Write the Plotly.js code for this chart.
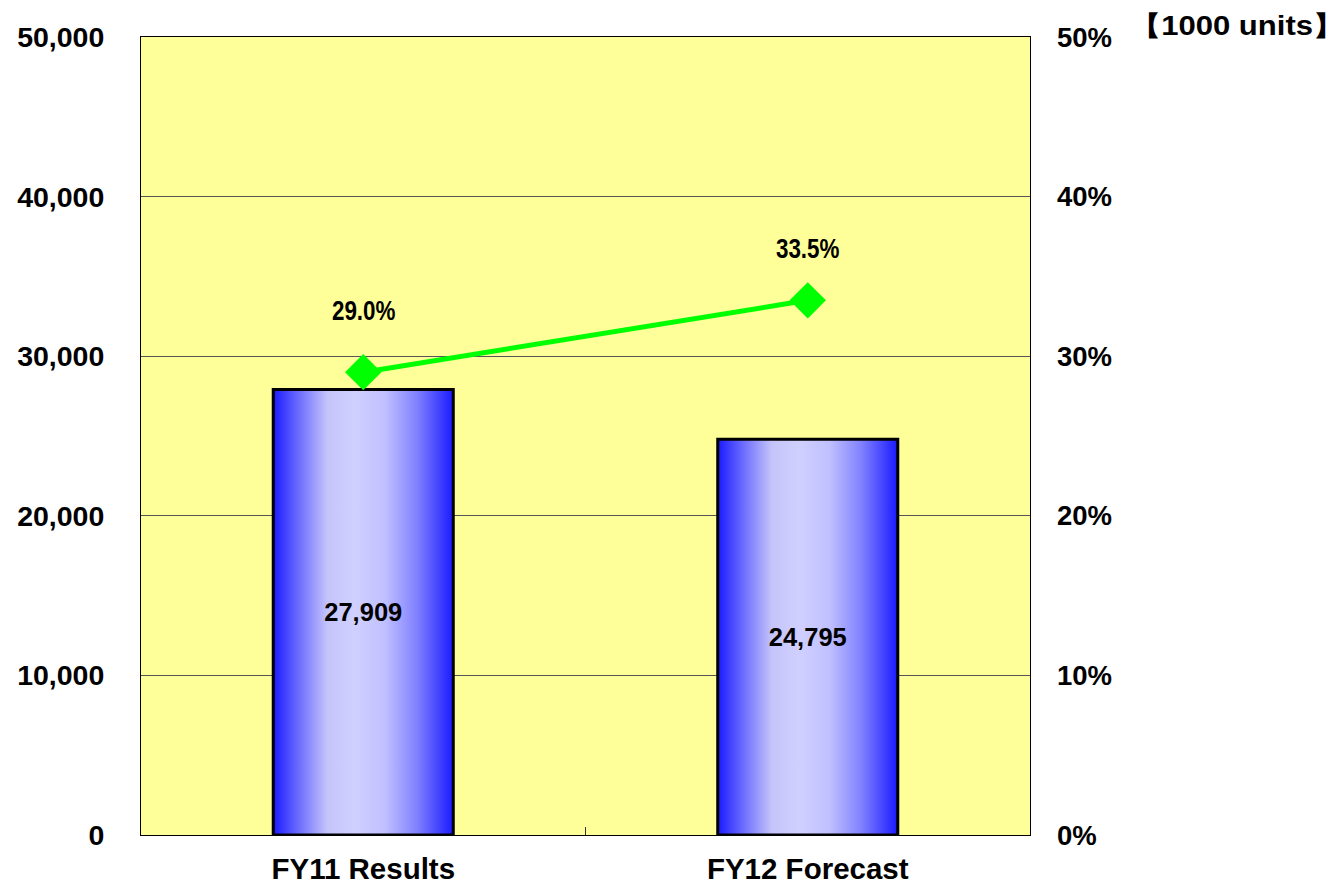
<!DOCTYPE html>
<html>
<head>
<meta charset="utf-8">
<script src="https://cdn.plot.ly/plotly-3.0.1.min.js"></script>
<style>
html,body{margin:0;padding:0;background:#fff;}
#chart{width:1343px;height:887px;}
</style>
</head>
<body>
<div id="chart"></div>
<script>
const categories = ["FY11 Results", "FY12 Forecast"];
const units = [27909, 24795];
const sharePct = [29.0, 33.5];
const unitLabel = "【1000 units】";

const fontMain = "Arial, 'Liberation Sans', sans-serif";
const labelShift = [62, 52];

const barTrace = {
  type: "bar",
  x: categories,
  y: units,
  width: 0.405,
  marker: { color: "#6666ff", line: { color: "#000000", width: 3 } },
  text: units.map(v => v.toLocaleString("en-US")),
  textposition: "inside",
  insidetextanchor: "middle",
  textangle: 0,
  textfont: { family: fontMain, size: 25.5, color: "#000000", weight: "bold" },
  hoverinfo: "skip",
  showlegend: false
};

const lineTrace = {
  type: "scatter",
  mode: "lines+markers",
  x: categories,
  y: sharePct,
  yaxis: "y2",
  line: { color: "#00ff00", width: 5 },
  marker: { symbol: "diamond", size: 28, color: "#00ff00" },
  hoverinfo: "skip",
  showlegend: false
};

const annotations = sharePct.map((v, i) => ({
  x: categories[i], y: v, xref: "x", yref: "y2",
  text: v.toFixed(1) + "%", showarrow: false, yshift: labelShift[i],
  font: { family: fontMain, size: 28, color: "#000000", weight: "bold" }
}));
annotations.push({
  xref: "paper", yref: "paper", x: 1.349, y: 1.0, xanchor: "right", yanchor: "middle",
  xshift: 6, yshift: 11,
  text: unitLabel,
  showarrow: false,
  font: { family: fontMain, size: 27, color: "#000000", weight: "bold" }
});

const layout = {
  width: 1343, height: 887,
  margin: { l: 141, r: 313, t: 37, b: 52 },
  paper_bgcolor: "#ffffff",
  plot_bgcolor: "#ffff99",
  showlegend: false,
  xaxis: {
    type: "category",
    showline: true, linecolor: "#000000", linewidth: 1, mirror: true,
    ticks: "inside", tickson: "boundaries", ticklen: 8, tickcolor: "#333333",
    showgrid: false,
    tickfont: { family: fontMain, size: 29.5, color: "#000000", weight: "bold" },
    ticklabelstandoff: 8,
    fixedrange: true
  },
  yaxis: {
    range: [0, 50000], dtick: 10000, tickformat: ",d",
    showline: true, linecolor: "#000000", linewidth: 1, mirror: true,
    showgrid: true, gridcolor: "#555555", gridwidth: 1,
    zeroline: false, ticks: "",
    tickfont: { family: fontMain, size: 28.5, color: "#000000", weight: "bold" },
    ticklabelstandoff: 30,
    fixedrange: true
  },
  yaxis2: {
    overlaying: "y", side: "right",
    range: [0, 50], dtick: 10, ticksuffix: "%",
    showgrid: false, zeroline: false, showline: false, ticks: "",
    tickfont: { family: fontMain, size: 27.5, color: "#000000", weight: "bold" },
    ticklabelstandoff: 26,
    fixedrange: true
  },
  annotations: annotations
};

Plotly.newPlot("chart", [barTrace, lineTrace], layout, { displayModeBar: false, staticPlot: true }).then(gd => {
  const svg = gd.querySelector("svg.main-svg");
  const ns = "http://www.w3.org/2000/svg";
  let defs = svg.querySelector("defs");
  if (!defs) { defs = document.createElementNS(ns, "defs"); svg.insertBefore(defs, svg.firstChild); }
  const grad = document.createElementNS(ns, "linearGradient");
  grad.setAttribute("id", "barGrad");
  grad.setAttribute("x1", "0"); grad.setAttribute("y1", "0");
  grad.setAttribute("x2", "1"); grad.setAttribute("y2", "0");
  [[0, "#1a1aff"], [0.12, "#6060ff"], [0.3, "#c4c4fa"], [0.45, "#d0d0ff"], [0.62, "#c0c0ff"], [0.8, "#8080ff"], [1, "#1a1aff"]].forEach(([o, c]) => {
    const s = document.createElementNS(ns, "stop");
    s.setAttribute("offset", o); s.setAttribute("stop-color", c);
    grad.appendChild(s);
  });
  defs.appendChild(grad);
  gd.querySelectorAll("g.trace.bars g.point path").forEach(p => { p.style.fill = "url(#barGrad)"; });
  gd.querySelectorAll("g.annotation").forEach((a, i) => {
    const t = a.querySelector("text");
    if (!t) return;
    t.style.transformBox = "fill-box";
    if (i < sharePct.length) {
      // condensed face of the original percentage labels
      t.style.transformOrigin = "center";
      t.style.transform = "scaleX(0.8)";
    } else {
      // wider unit label anchored at its right edge
      t.style.transformOrigin = "right center";
      t.style.transform = "scaleX(1.15)";
    }
  });
});
</script>
</body>
</html>
